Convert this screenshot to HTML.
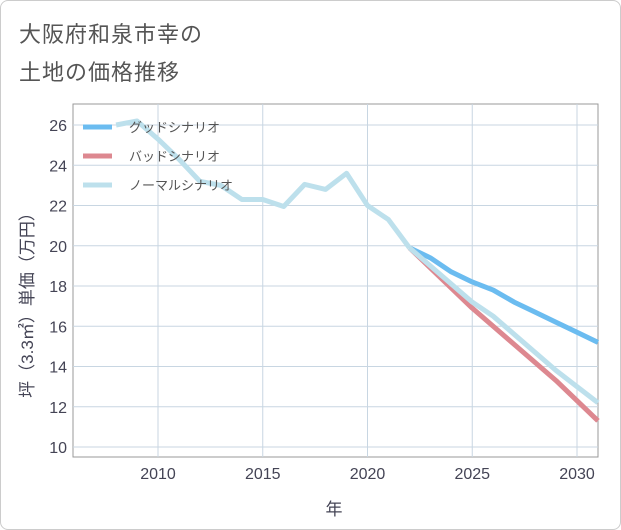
<!DOCTYPE html>
<html><head><meta charset="utf-8"><style>
body{margin:0;background:#fff;font-family:"Liberation Sans","Noto Sans CJK JP",sans-serif}
#wrap{position:relative;width:619px;height:528px;border:1px solid #ccc;border-radius:8px;overflow:hidden}
.title{position:absolute;left:18px;font-size:22px;color:#555;letter-spacing:1px}
</style></head><body>
<div id="wrap">
<div class="title" style="top:16px">大阪府和泉市幸の</div>
<div class="title" style="top:54px">土地の価格推移</div>
<svg id="chart" width="621" height="530" style="position:absolute;left:0;top:0"></svg>
</div>
<script>
const histYears=[2008,2009,2010,2011,2012,2013,2014,2015,2016,2017,2018,2019,2020,2021,2022];
const histValues=[26.0,26.2,25.3,24.3,23.2,23.0,22.3,22.3,21.95,23.05,22.8,23.6,22.0,21.3,19.9];
const futYears=[2022,2023,2024,2025,2026,2027,2028,2029,2030,2031];
const goodValues=[19.9,19.4,18.7,18.2,17.8,17.2,16.7,16.2,15.7,15.2];
const badValues=[19.9,18.9,17.9,16.9,16.0,15.1,14.2,13.3,12.3,11.3];
const normalValues=[19.9,19.0,18.1,17.2,16.5,15.6,14.7,13.8,13.0,12.2];
const xTicks=[2010,2015,2020,2025,2030];
const yTicks=[10,12,14,16,18,20,22,24,26];
const NS="http://www.w3.org/2000/svg";
const svg=document.getElementById('chart');
const L=72,R=597,T=103,B=456;
const x=y=>157+(y-2010)*20.95;
const yv=v=>446-(v-10)*20.125;
function mk(tag,attrs){const e=document.createElementNS(NS,tag);for(const k in attrs)e.setAttribute(k,attrs[k]);svg.appendChild(e);return e;}
const bg=mk('rect',{x:L,y:T,width:R-L,height:B-T,fill:'#fff',stroke:'#999','stroke-width':1});


xTicks.forEach(t=>{
 const l=mk('line',{x1:x(t),x2:x(t),y1:T,y2:B,stroke:'#c8d6e2','stroke-width':1});
 
 
 const tx=mk('text',{x:x(t),y:478,'text-anchor':'middle','font-size':16,fill:'#445'});
 tx.textContent=t;
 
 
});
yTicks.forEach(t=>{
 const l=mk('line',{x1:L,x2:R,y1:yv(t),y2:yv(t),stroke:'#c8d6e2','stroke-width':1});
 
 
 const tx=mk('text',{x:66,y:yv(t)+6,'text-anchor':'end','font-size':16,fill:'#445'});
 tx.textContent=t;
 
 
});
function line(xs,vs,color,name){
 const p=mk('polyline',{points:xs.map((yr,i)=>x(yr)+','+yv(vs[i])).join(' '),fill:'none',stroke:color,'stroke-width':5,'stroke-linejoin':'round'});
 
 
}
line(futYears,goodValues,'#6bbcf0','good-scenario-line');
line(futYears,badValues,'#dd8890','bad-scenario-line');
line(futYears,normalValues,'#bde0ec','normal-scenario-line');
line(histYears,histValues,'#bde0ec','historical-line');
const leg=[['グッドシナリオ','#6bbcf0'],['バッドシナリオ','#dd8890'],['ノーマルシナリオ','#bde0ec']];
leg.forEach((d,i)=>{
 const yy=126+i*29;
 const r=mk('line',{x1:82,x2:111,y1:yy,y2:yy,stroke:d[1],'stroke-width':5});
 
 
 const t=mk('text',{x:128,y:yy+5,'font-size':13,fill:'#555'});
 t.textContent=d[0];
 
 
});
const xt=mk('text',{x:333,y:514,'text-anchor':'middle','font-size':17,fill:'#445'});
xt.textContent='年';


const yt=mk('text',{x:0,y:0,'text-anchor':'middle','font-size':17,fill:'#445',transform:'translate(32,300) rotate(-90)'});
yt.textContent='坪（3.3㎡）単価（万円）';


</script>
</body></html>
